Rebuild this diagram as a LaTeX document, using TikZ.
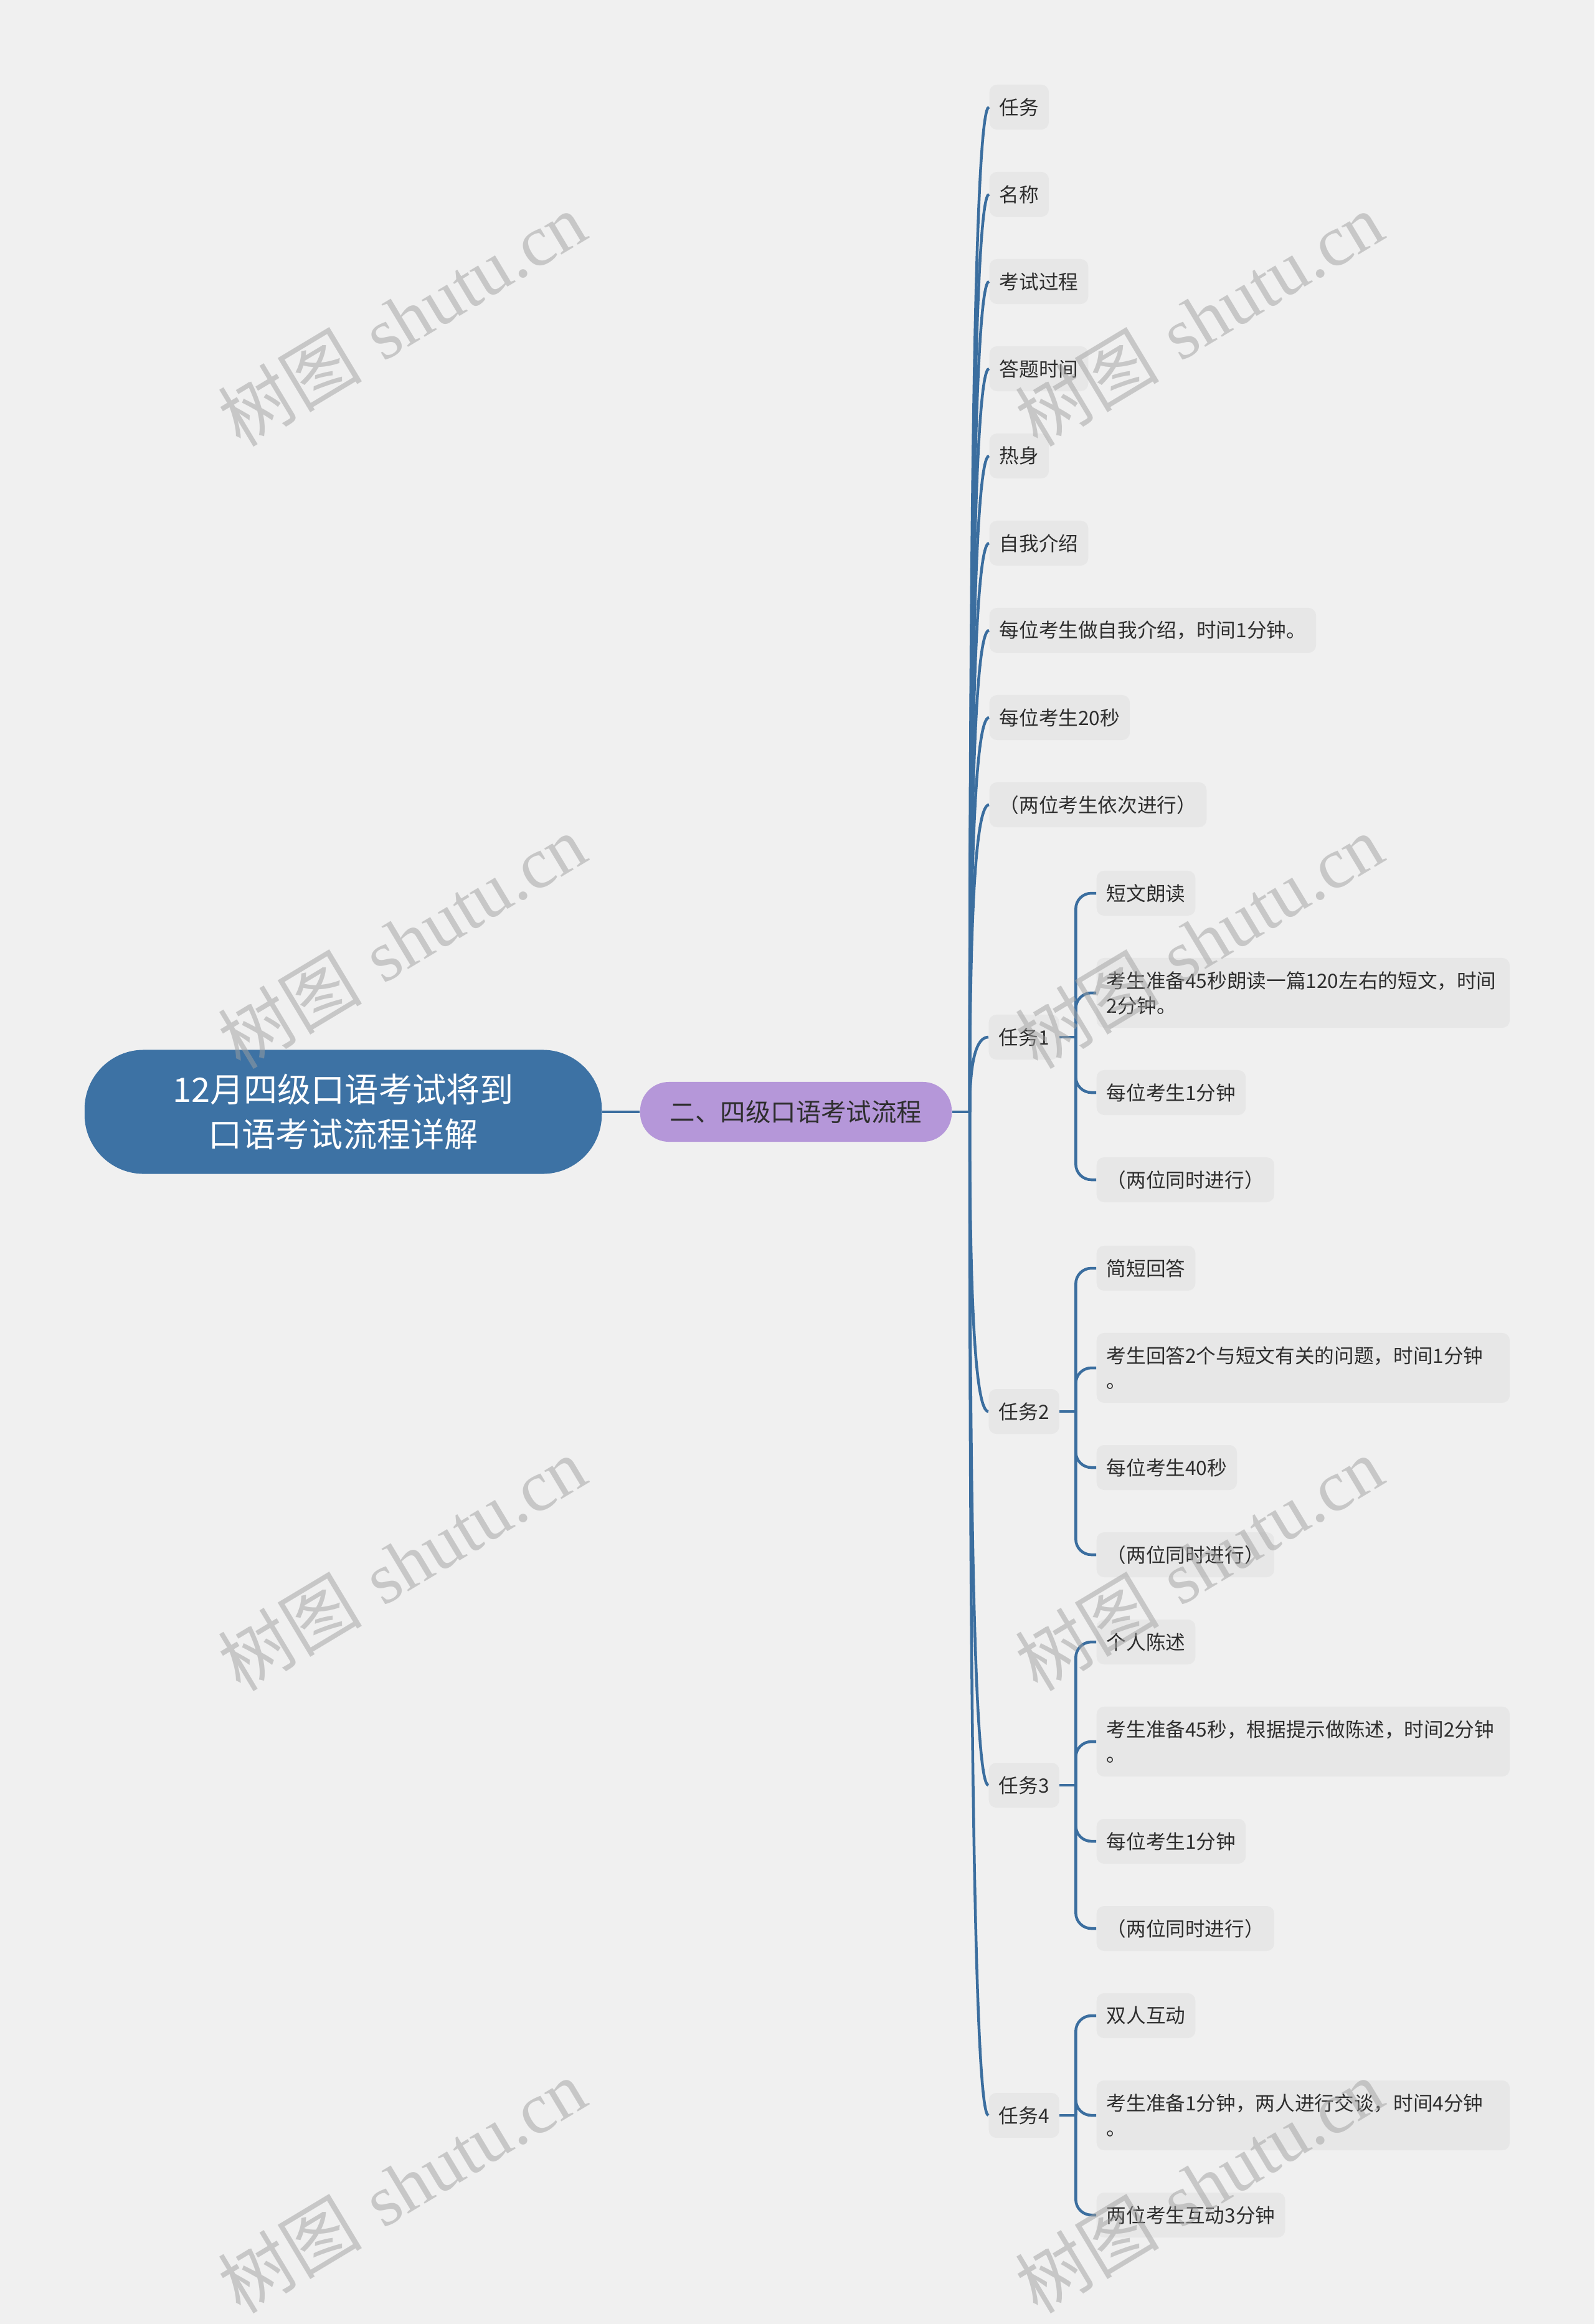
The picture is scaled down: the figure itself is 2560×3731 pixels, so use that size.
\documentclass[tikz,border=0pt]{standalone}
\usepackage{fontspec}
\newfontfamily\cjk{Noto Sans CJK SC}
\newfontfamily\wmserif{Liberation Serif}
\usetikzlibrary{calc}
\definecolor{bgc}{HTML}{F0F0F0}
\definecolor{leafc}{HTML}{E7E7E7}
\definecolor{rootc}{HTML}{3D72A4}
\definecolor{linec}{HTML}{3B6E9F}
\definecolor{childc}{HTML}{B597D9}
\definecolor{txtc}{HTML}{2E2E2E}
\definecolor{wmc}{HTML}{A0A0A0}
\begin{document}
\begin{tikzpicture}[x=0.01cm,y=-0.01cm,
  leaf/.style={fill=leafc, rounded corners=0.12cm, inner xsep=0.16cm, inner ysep=0pt,
    minimum height=0.72cm, anchor=west, text=txtc, font=\cjk\fontsize{9pt}{11.4pt}\selectfont},
  leaftwo/.style={leaf, minimum height=1.12cm, text width=6.31cm, align=left},
  conn/.style={draw=linec, line width=0.045cm},
  subconn/.style={conn, rounded corners=0.25cm},
  rootnode/.style={fill=rootc, rounded corners=0.95cm, minimum width=8.3cm, minimum height=1.99cm,
    inner sep=0pt, text=white, align=center, font=\cjk\fontsize{15.4pt}{20.5pt}\selectfont},
  childnode/.style={fill=childc, rounded corners=0.46cm, minimum width=5cm, minimum height=0.96cm,
    inner sep=0pt, text=txtc, font=\cjk\fontsize{11.5pt}{14pt}\selectfont},
  wm/.style={text=wmc, text opacity=0.5, rotate=31, inner sep=0pt, font=\fontsize{33pt}{38pt}\selectfont}
]
\fill[bgc] (0,0) rectangle (2560,3731);
\useasboundingbox (0,0) rectangle (2560,3731);

% root and main branch
\node[rootnode] (root) at (551,1785) {12月四级口语考试将到\hspace{0.3cm}\\口语考试流程详解};
\node[childnode] (child) at (1278,1785) {二、四级口语考试流程};
\coordinate (J) at (1557,1785);

% main leaves
\node[leaf] (m1) at (1588,172) {任务};
\node[leaf] (m2) at (1588,312) {名称};
\node[leaf] (m3) at (1588,452) {考试过程};
\node[leaf] (m4) at (1588,592) {答题时间};
\node[leaf] (m5) at (1588,732) {热身};
\node[leaf] (m6) at (1588,872) {自我介绍};
\node[leaf] (m7) at (1588,1012) {每位考生做自我介绍，时间1分钟。};
\node[leaf] (m8) at (1588,1152) {每位考生20秒};
\node[leaf] (m9) at (1588,1292) {（两位考生依次进行）};
\node[leaf] (t1) at (1587,1665) {任务1};
\node[leaf] (t2) at (1587,2266) {任务2};
\node[leaf] (t3) at (1587,2866) {任务3};
\node[leaf] (t4) at (1587,3396) {任务4};

% task 1
\node[leaf] (a1) at (1760,1434) {短文朗读};
\node[leaftwo] (a2) at (1760,1594) {考生准备45秒朗读一篇120左右的短文，时间\\2分钟。};
\node[leaf] (a3) at (1760,1754) {每位考生1分钟};
\node[leaf] (a4) at (1760,1894) {（两位同时进行）};
% task 2
\node[leaf] (b1) at (1760,2036) {简短回答};
\node[leaftwo] (b2) at (1760,2196) {考生回答2个与短文有关的问题，时间1分钟\\。};
\node[leaf] (b3) at (1760,2356) {每位考生40秒};
\node[leaf] (b4) at (1760,2496) {（两位同时进行）};
% task 3
\node[leaf] (c1) at (1760,2636) {个人陈述};
\node[leaftwo] (c2) at (1760,2796) {考生准备45秒，根据提示做陈述，时间2分钟\\。};
\node[leaf] (c3) at (1760,2956) {每位考生1分钟};
\node[leaf] (c4) at (1760,3096) {（两位同时进行）};
% task 4
\node[leaf] (d1) at (1760,3236) {双人互动};
\node[leaftwo] (d2) at (1760,3396) {考生准备1分钟，两人进行交谈，时间4分钟\\。};
\node[leaf] (d3) at (1760,3556) {两位考生互动3分钟};

% connectors
\draw[conn] (root.east) -- (child.west);
\draw[conn] (child.east) -- (J);
\foreach \n in {m1,m2,m3,m4,m5,m6,m7,m8,m9,t1,t2,t3,t4}{
  \draw[conn] (J) .. controls ($(J)!0.6667!(J|-\n.west)$) and ($(J|-\n.west)!0.3333!(\n.west)$) .. (\n.west);
}
\foreach \t in {1,2,3,4}{
  \coordinate (j\t) at ($(t\t.east)+(26,0)$);
  \draw[conn] (t\t.east) -- (j\t);
}
\foreach \n in {a1,a2,a3,a4}{\draw[subconn] (j1) |- (\n.west);}
\foreach \n in {b1,b2,b3,b4}{\draw[subconn] (j2) |- (\n.west);}
\foreach \n in {c1,c2,c3,c4}{\draw[subconn] (j3) |- (\n.west);}
\foreach \n in {d1,d2,d3}{\draw[subconn] (j4) |- (\n.west);}

% watermarks
\node[wm] (w1) at (645,512) {{\cjk 树图} {\wmserif shutu.cn}};
\node[wm] (w2) at (1925,512) {{\cjk 树图} {\wmserif shutu.cn}};
\node[wm] (w3) at (645,1511) {{\cjk 树图} {\wmserif shutu.cn}};
\node[wm] (w4) at (1925,1511) {{\cjk 树图} {\wmserif shutu.cn}};
\node[wm] (w5) at (645,2510) {{\cjk 树图} {\wmserif shutu.cn}};
\node[wm] (w6) at (1925,2510) {{\cjk 树图} {\wmserif shutu.cn}};
\node[wm] (w7) at (645,3509) {{\cjk 树图} {\wmserif shutu.cn}};
\node[wm] (w8) at (1925,3509) {{\cjk 树图} {\wmserif shutu.cn}};
\end{tikzpicture}
\end{document}
